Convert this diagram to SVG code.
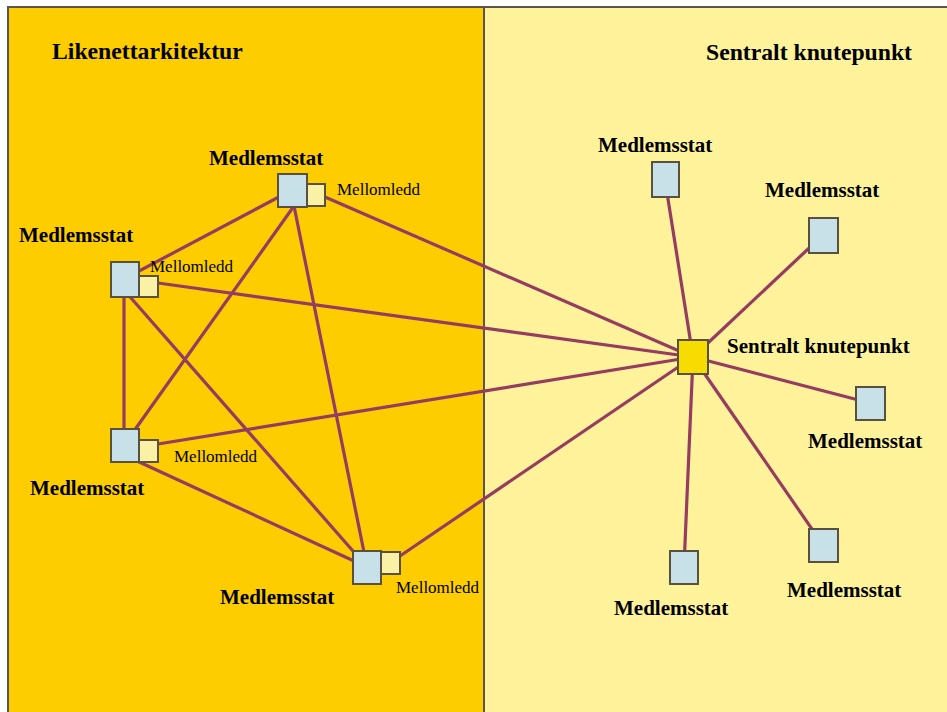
<svg xmlns="http://www.w3.org/2000/svg" width="947" height="712" viewBox="0 0 947 712">
<style>
.bg{stroke:#5a5550;stroke-width:2}
.ms{fill:#c8e1e9;stroke:#5a5040;stroke-width:2}
.mm{fill:#f9f2a6;stroke:#5a5040;stroke-width:2}
.hub{fill:#f7dc00;stroke:#5a5040;stroke-width:2}
.c line{stroke:#963c60;stroke-width:3.2;stroke-linecap:round}
text{font-family:"Liberation Serif","Times New Roman",serif;fill:#000}
.h{font-size:23.7px;font-weight:bold}
.l{font-size:21px;font-weight:bold}
.s{font-size:17px}
</style>
<rect x="0" y="0" width="947" height="712" fill="#ffffff"/>
<rect class="bg" x="8" y="7" width="476" height="710" fill="#fecd00"/>
<rect x="485" y="8" width="463" height="705" fill="#fef39b"/>
<line x1="484" y1="7" x2="947" y2="7" stroke="#5a5550" stroke-width="2"/>
<text class="h" x="52" y="59">Likenettarkitektur</text>
<text class="h" x="706" y="60">Sentralt knutepunkt</text>
<g id="connectors" class="c">
<line x1="292" y1="190" x2="124" y2="279"/>
<line x1="294" y1="206" x2="124" y2="445"/>
<line x1="294" y1="206" x2="367" y2="567"/>
<line x1="325" y1="197" x2="693" y2="357"/>
<line x1="124" y1="280" x2="124" y2="445"/>
<line x1="124" y1="290" x2="367" y2="567"/>
<line x1="158" y1="283" x2="693" y2="357"/>
<line x1="124" y1="455" x2="367" y2="567"/>
<line x1="158" y1="444" x2="693" y2="357"/>
<line x1="400" y1="556" x2="693" y2="357"/>
<line x1="693" y1="357" x2="665" y2="180"/>
<line x1="693" y1="357" x2="823" y2="235"/>
<line x1="693" y1="357" x2="870" y2="403"/>
<line x1="693" y1="357" x2="684" y2="567"/>
<line x1="693" y1="357" x2="823" y2="545"/>
</g>
<g id="node-a">
<rect class="ms" x="278" y="174" width="29" height="33"/>
<rect class="mm" x="307" y="184" width="18" height="22"/>
<text class="l" x="209" y="165">Medlemsstat</text>
<text class="s" x="337" y="195">Mellomledd</text>
</g>
<g id="node-b">
<rect class="ms" x="111" y="262" width="28" height="35"/>
<rect class="mm" x="139" y="276" width="19" height="21"/>
<text class="l" x="19" y="242">Medlemsstat</text>
<text class="s" x="150" y="272">Mellomledd</text>
</g>
<g id="node-c">
<rect class="ms" x="111" y="429" width="28" height="33"/>
<rect class="mm" x="139" y="440" width="19" height="22"/>
<text class="l" x="30" y="495">Medlemsstat</text>
<text class="s" x="174" y="462">Mellomledd</text>
</g>
<g id="node-d">
<rect class="ms" x="353" y="551" width="28" height="33"/>
<rect class="mm" x="381" y="552" width="19" height="22"/>
<text class="l" x="220" y="604">Medlemsstat</text>
<text class="s" x="396" y="593">Mellomledd</text>
</g>
<g id="hub">
<rect class="hub" x="678" y="340" width="30" height="34"/>
<text class="l" x="727" y="353">Sentralt knutepunkt</text>
</g>
<g id="node-r1">
<rect class="ms" x="652" y="162" width="27" height="35"/>
<text class="l" x="598" y="152">Medlemsstat</text>
</g>
<g id="node-r2">
<rect class="ms" x="809" y="218" width="29" height="35"/>
<text class="l" x="765" y="197">Medlemsstat</text>
</g>
<g id="node-r3">
<rect class="ms" x="856" y="387" width="29" height="33"/>
<text class="l" x="808" y="448">Medlemsstat</text>
</g>
<g id="node-r4">
<rect class="ms" x="670" y="551" width="28" height="33"/>
<text class="l" x="614" y="615">Medlemsstat</text>
</g>
<g id="node-r5">
<rect class="ms" x="809" y="529" width="29" height="33"/>
<text class="l" x="787" y="597">Medlemsstat</text>
</g>
</svg>
